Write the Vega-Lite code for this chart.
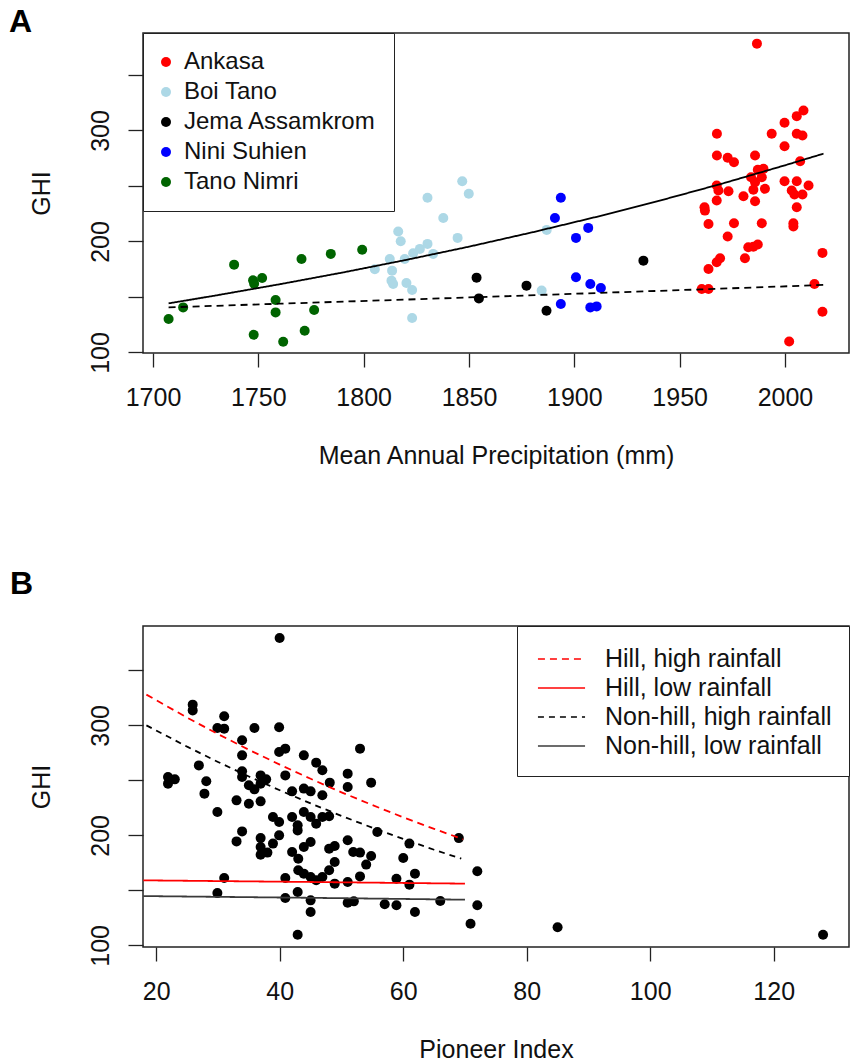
{
  "$schema": "https://vega.github.io/schema/vega-lite/v6.json",
  "autosize": {"type": "pad"},
  "padding": {"left": 8, "top": 4, "right": 0, "bottom": 0},
  "background": "white",
  "bounds": "flush",
  "spacing": 273,
  "config": {
    "view": {"stroke": "#222", "strokeWidth": 1.5},
    "font": "Liberation Sans",
    "axis": {
      "domain": false, "grid": false, "tickColor": "#222", "tickWidth": 1.3,
      "labelFont": "Liberation Sans", "labelFontSize": 25, "labelColor": "#111",
      "titleFont": "Liberation Sans", "titleFontSize": 25, "titleFontWeight": "normal", "titleColor": "#111",
      "labelFlush": false, "labelOverlap": false
    },
    "axisX": {"tickSize": 14, "labelPadding": 18, "titlePadding": 33},
    "axisY": {"tickSize": 15, "labelAngle": -90, "labelAlign": "center", "labelBaseline": "bottom", "labelPadding": 15, "titlePadding": 34},
    "legend": {"labelFont": "Liberation Sans", "labelFontSize": 25, "labelColor": "#111", "strokeColor": "#222", "fillColor": "white", "labelLimit": 400}
  },
  "resolve": {
    "scale": {"x": "independent", "y": "independent", "color": "independent", "strokeDash": "independent"},
    "legend": {"color": "independent", "strokeDash": "independent"}
  },
  "datasets": {
    "sitesA": [
      {"site": "Tano Nimri", "precip": 1707.4, "ghi": 130.1},
      {"site": "Tano Nimri", "precip": 1714.3, "ghi": 140.6},
      {"site": "Tano Nimri", "precip": 1738.5, "ghi": 179.1},
      {"site": "Tano Nimri", "precip": 1747.5, "ghi": 165},
      {"site": "Tano Nimri", "precip": 1748, "ghi": 162},
      {"site": "Tano Nimri", "precip": 1751.8, "ghi": 167.1},
      {"site": "Tano Nimri", "precip": 1758.2, "ghi": 147.3},
      {"site": "Tano Nimri", "precip": 1758.2, "ghi": 136.1},
      {"site": "Tano Nimri", "precip": 1747.8, "ghi": 116},
      {"site": "Tano Nimri", "precip": 1761.8, "ghi": 109.7},
      {"site": "Tano Nimri", "precip": 1772, "ghi": 119.6},
      {"site": "Tano Nimri", "precip": 1776.5, "ghi": 138.2},
      {"site": "Tano Nimri", "precip": 1770.5, "ghi": 184.2},
      {"site": "Tano Nimri", "precip": 1784.4, "ghi": 188.8},
      {"site": "Tano Nimri", "precip": 1799.3, "ghi": 192.6},
      {"site": "Boi Tano", "precip": 1805.3, "ghi": 174.9},
      {"site": "Boi Tano", "precip": 1812.4, "ghi": 184.2},
      {"site": "Boi Tano", "precip": 1816.4, "ghi": 208.9},
      {"site": "Boi Tano", "precip": 1817.6, "ghi": 200.1},
      {"site": "Boi Tano", "precip": 1813.5, "ghi": 173.7},
      {"site": "Boi Tano", "precip": 1813.2, "ghi": 164.7},
      {"site": "Boi Tano", "precip": 1814, "ghi": 161.7},
      {"site": "Boi Tano", "precip": 1819.5, "ghi": 184.2},
      {"site": "Boi Tano", "precip": 1820.3, "ghi": 162.6},
      {"site": "Boi Tano", "precip": 1823, "ghi": 156.3},
      {"site": "Boi Tano", "precip": 1823, "ghi": 131},
      {"site": "Boi Tano", "precip": 1823.5, "ghi": 189.3},
      {"site": "Boi Tano", "precip": 1826.7, "ghi": 193.3},
      {"site": "Boi Tano", "precip": 1830.3, "ghi": 197.8},
      {"site": "Boi Tano", "precip": 1833, "ghi": 188.8},
      {"site": "Boi Tano", "precip": 1830.3, "ghi": 239.3},
      {"site": "Boi Tano", "precip": 1837.8, "ghi": 221.2},
      {"site": "Boi Tano", "precip": 1844.6, "ghi": 203.2},
      {"site": "Boi Tano", "precip": 1846.8, "ghi": 254.3},
      {"site": "Boi Tano", "precip": 1849.9, "ghi": 242.9},
      {"site": "Boi Tano", "precip": 1886.9, "ghi": 210.4},
      {"site": "Boi Tano", "precip": 1884.5, "ghi": 155.7},
      {"site": "Jema Assamkrom", "precip": 1853.6, "ghi": 167.4},
      {"site": "Jema Assamkrom", "precip": 1854.7, "ghi": 148.7},
      {"site": "Jema Assamkrom", "precip": 1877.3, "ghi": 160.2},
      {"site": "Jema Assamkrom", "precip": 1886.8, "ghi": 137.6},
      {"site": "Jema Assamkrom", "precip": 1932.8, "ghi": 182.7},
      {"site": "Nini Suhien", "precip": 1893.6, "ghi": 239.3},
      {"site": "Nini Suhien", "precip": 1890.8, "ghi": 221.2},
      {"site": "Nini Suhien", "precip": 1906.6, "ghi": 212.2},
      {"site": "Nini Suhien", "precip": 1900.8, "ghi": 203.2},
      {"site": "Nini Suhien", "precip": 1900.8, "ghi": 167.7},
      {"site": "Nini Suhien", "precip": 1907.6, "ghi": 161.7},
      {"site": "Nini Suhien", "precip": 1912.6, "ghi": 158.1},
      {"site": "Nini Suhien", "precip": 1893.6, "ghi": 143.7},
      {"site": "Nini Suhien", "precip": 1907.6, "ghi": 140.6},
      {"site": "Nini Suhien", "precip": 1910.6, "ghi": 141.5},
      {"site": "Ankasa", "precip": 1986.7, "ghi": 378.2},
      {"site": "Ankasa", "precip": 1967.7, "ghi": 297},
      {"site": "Ankasa", "precip": 1967.7, "ghi": 277.4},
      {"site": "Ankasa", "precip": 1972.8, "ghi": 275.4},
      {"site": "Ankasa", "precip": 1975.8, "ghi": 271.4},
      {"site": "Ankasa", "precip": 1985.8, "ghi": 277.4},
      {"site": "Ankasa", "precip": 1993.7, "ghi": 297},
      {"site": "Ankasa", "precip": 1999.8, "ghi": 306.9},
      {"site": "Ankasa", "precip": 2005.6, "ghi": 312.9},
      {"site": "Ankasa", "precip": 2008.8, "ghi": 318},
      {"site": "Ankasa", "precip": 2005.6, "ghi": 297},
      {"site": "Ankasa", "precip": 2008.3, "ghi": 295.5},
      {"site": "Ankasa", "precip": 1999.8, "ghi": 285.8},
      {"site": "Ankasa", "precip": 2007.2, "ghi": 272.3},
      {"site": "Ankasa", "precip": 1987.1, "ghi": 264.5},
      {"site": "Ankasa", "precip": 1989.8, "ghi": 265.4},
      {"site": "Ankasa", "precip": 1983.9, "ghi": 257.9},
      {"site": "Ankasa", "precip": 1989, "ghi": 257.9},
      {"site": "Ankasa", "precip": 1985.8, "ghi": 253.4},
      {"site": "Ankasa", "precip": 1990.5, "ghi": 247.4},
      {"site": "Ankasa", "precip": 1985, "ghi": 246.5},
      {"site": "Ankasa", "precip": 1967.6, "ghi": 250.4},
      {"site": "Ankasa", "precip": 1968.4, "ghi": 245.9},
      {"site": "Ankasa", "precip": 1973.2, "ghi": 245.2},
      {"site": "Ankasa", "precip": 1980.3, "ghi": 240.7},
      {"site": "Ankasa", "precip": 1967.6, "ghi": 236.9},
      {"site": "Ankasa", "precip": 1985.8, "ghi": 236.2},
      {"site": "Ankasa", "precip": 1999.8, "ghi": 254.3},
      {"site": "Ankasa", "precip": 2005.6, "ghi": 254.3},
      {"site": "Ankasa", "precip": 2003.2, "ghi": 245.9},
      {"site": "Ankasa", "precip": 2004.5, "ghi": 242.3},
      {"site": "Ankasa", "precip": 2008.3, "ghi": 242.3},
      {"site": "Ankasa", "precip": 2011.2, "ghi": 250.4},
      {"site": "Ankasa", "precip": 2005.6, "ghi": 230.8},
      {"site": "Ankasa", "precip": 1961.8, "ghi": 230.8},
      {"site": "Ankasa", "precip": 1962, "ghi": 227.8},
      {"site": "Ankasa", "precip": 1963.7, "ghi": 215.8},
      {"site": "Ankasa", "precip": 1975.8, "ghi": 216.4},
      {"site": "Ankasa", "precip": 1989, "ghi": 216.4},
      {"site": "Ankasa", "precip": 2004, "ghi": 216.4},
      {"site": "Ankasa", "precip": 2004, "ghi": 213.4},
      {"site": "Ankasa", "precip": 1972.8, "ghi": 204.4},
      {"site": "Ankasa", "precip": 1982.6, "ghi": 194.7},
      {"site": "Ankasa", "precip": 1985, "ghi": 195.3},
      {"site": "Ankasa", "precip": 1987.1, "ghi": 197.2},
      {"site": "Ankasa", "precip": 1981, "ghi": 184.8},
      {"site": "Ankasa", "precip": 1969.2, "ghi": 184.8},
      {"site": "Ankasa", "precip": 1967.6, "ghi": 181.2},
      {"site": "Ankasa", "precip": 1963.7, "ghi": 175.2},
      {"site": "Ankasa", "precip": 1960.5, "ghi": 157.2},
      {"site": "Ankasa", "precip": 1963.7, "ghi": 157.2},
      {"site": "Ankasa", "precip": 2017.8, "ghi": 189.7},
      {"site": "Ankasa", "precip": 2014, "ghi": 161.7},
      {"site": "Ankasa", "precip": 2017.8, "ghi": 136.7},
      {"site": "Ankasa", "precip": 2002, "ghi": 109.9}
    ],
    "fitA": [
      {"fit": "solid", "precip": 1707.4, "ghi": 144.2},
      {"fit": "solid", "precip": 1730, "ghi": 151.4},
      {"fit": "solid", "precip": 1760, "ghi": 161.4},
      {"fit": "solid", "precip": 1790, "ghi": 172.0},
      {"fit": "solid", "precip": 1820, "ghi": 183.3},
      {"fit": "solid", "precip": 1850, "ghi": 195.3},
      {"fit": "solid", "precip": 1880, "ghi": 208.2},
      {"fit": "solid", "precip": 1910, "ghi": 221.9},
      {"fit": "solid", "precip": 1940, "ghi": 236.5},
      {"fit": "solid", "precip": 1970, "ghi": 252.0},
      {"fit": "solid", "precip": 2000, "ghi": 268.6},
      {"fit": "solid", "precip": 2018.3, "ghi": 279.1},
      {"fit": "dashed", "precip": 1707.4, "ghi": 140.6},
      {"fit": "dashed", "precip": 1760, "ghi": 143.9},
      {"fit": "dashed", "precip": 1810, "ghi": 147.0},
      {"fit": "dashed", "precip": 1860, "ghi": 150.2},
      {"fit": "dashed", "precip": 1910, "ghi": 153.5},
      {"fit": "dashed", "precip": 1960, "ghi": 156.8},
      {"fit": "dashed", "precip": 2018.3, "ghi": 160.8}
    ],
    "pointsB": [
      {"pioneer": 39.98, "ghi": 379.4}, {"pioneer": 25.9, "ghi": 318.8}, {"pioneer": 25.9, "ghi": 313.6},
      {"pioneer": 31, "ghi": 308.2}, {"pioneer": 29.9, "ghi": 297.6}, {"pioneer": 31, "ghi": 297},
      {"pioneer": 35.9, "ghi": 297.6}, {"pioneer": 39.9, "ghi": 298.2}, {"pioneer": 33.9, "ghi": 286.4},
      {"pioneer": 33.9, "ghi": 272.7}, {"pioneer": 39.9, "ghi": 275.7}, {"pioneer": 40.9, "ghi": 278.8},
      {"pioneer": 43.9, "ghi": 272.7}, {"pioneer": 45.9, "ghi": 266.1}, {"pioneer": 46.9, "ghi": 259.1},
      {"pioneer": 53, "ghi": 278.8}, {"pioneer": 51, "ghi": 256.1}, {"pioneer": 51, "ghi": 243.9},
      {"pioneer": 54.8, "ghi": 247.9}, {"pioneer": 26.9, "ghi": 263.6}, {"pioneer": 21.9, "ghi": 253},
      {"pioneer": 21.9, "ghi": 247}, {"pioneer": 23, "ghi": 250.9}, {"pioneer": 28.1, "ghi": 249.1},
      {"pioneer": 27.8, "ghi": 237.9}, {"pioneer": 29.9, "ghi": 221.2}, {"pioneer": 33.9, "ghi": 258.2},
      {"pioneer": 33.9, "ghi": 253}, {"pioneer": 35, "ghi": 245.5}, {"pioneer": 35.9, "ghi": 241.8},
      {"pioneer": 36.9, "ghi": 254.5}, {"pioneer": 37.8, "ghi": 250.9}, {"pioneer": 36.9, "ghi": 247},
      {"pioneer": 40.9, "ghi": 254.5}, {"pioneer": 42, "ghi": 240}, {"pioneer": 43.9, "ghi": 242.5},
      {"pioneer": 45, "ghi": 240}, {"pioneer": 46.9, "ghi": 236.4}, {"pioneer": 48.1, "ghi": 247.9},
      {"pioneer": 33, "ghi": 231.8}, {"pioneer": 35, "ghi": 228.8}, {"pioneer": 36.9, "ghi": 230.9},
      {"pioneer": 38.9, "ghi": 216.6}, {"pioneer": 39.9, "ghi": 212.1}, {"pioneer": 42, "ghi": 216.6},
      {"pioneer": 43.9, "ghi": 221.2}, {"pioneer": 45, "ghi": 216.6}, {"pioneer": 45.9, "ghi": 210.6},
      {"pioneer": 46.9, "ghi": 216.6}, {"pioneer": 48, "ghi": 217.3}, {"pioneer": 42.9, "ghi": 209.1},
      {"pioneer": 42.9, "ghi": 204.5}, {"pioneer": 39.9, "ghi": 200}, {"pioneer": 33.9, "ghi": 203.6},
      {"pioneer": 33, "ghi": 194.5}, {"pioneer": 36.9, "ghi": 197.5}, {"pioneer": 36.9, "ghi": 189.4},
      {"pioneer": 36.9, "ghi": 182.4}, {"pioneer": 38, "ghi": 184.3}, {"pioneer": 38.9, "ghi": 192.5},
      {"pioneer": 42, "ghi": 184.8}, {"pioneer": 43, "ghi": 178.8}, {"pioneer": 43, "ghi": 168.2},
      {"pioneer": 43.9, "ghi": 189.4}, {"pioneer": 45, "ghi": 193.9}, {"pioneer": 43.9, "ghi": 165.2},
      {"pioneer": 45, "ghi": 162.1}, {"pioneer": 45.9, "ghi": 159.1}, {"pioneer": 46.9, "ghi": 162.1},
      {"pioneer": 48, "ghi": 168.2}, {"pioneer": 48.9, "ghi": 175.7}, {"pioneer": 48, "ghi": 187.9},
      {"pioneer": 48.9, "ghi": 190.3}, {"pioneer": 48.9, "ghi": 156.1}, {"pioneer": 51, "ghi": 195.5},
      {"pioneer": 51, "ghi": 157.6}, {"pioneer": 51.9, "ghi": 184.8}, {"pioneer": 53, "ghi": 184.3},
      {"pioneer": 54, "ghi": 173.4}, {"pioneer": 54.8, "ghi": 181.2}, {"pioneer": 53, "ghi": 162.7},
      {"pioneer": 55.8, "ghi": 203}, {"pioneer": 60, "ghi": 179.4}, {"pioneer": 61, "ghi": 192.5},
      {"pioneer": 58.9, "ghi": 160.6}, {"pioneer": 61, "ghi": 155.2}, {"pioneer": 61.9, "ghi": 165.2},
      {"pioneer": 31, "ghi": 161.2}, {"pioneer": 29.9, "ghi": 147.5}, {"pioneer": 40.9, "ghi": 161.2},
      {"pioneer": 40.9, "ghi": 143}, {"pioneer": 42.9, "ghi": 148.5}, {"pioneer": 45, "ghi": 140.9},
      {"pioneer": 45, "ghi": 130.3}, {"pioneer": 51, "ghi": 138.8}, {"pioneer": 52, "ghi": 140},
      {"pioneer": 57, "ghi": 137.3}, {"pioneer": 58.9, "ghi": 136.4}, {"pioneer": 61.9, "ghi": 130.3},
      {"pioneer": 66, "ghi": 140.3}, {"pioneer": 42.9, "ghi": 109.7}, {"pioneer": 69, "ghi": 197.5},
      {"pioneer": 72, "ghi": 167.3}, {"pioneer": 72, "ghi": 136.4}, {"pioneer": 70.9, "ghi": 119.7},
      {"pioneer": 85, "ghi": 116.4}, {"pioneer": 128, "ghi": 109.7}
    ],
    "fitB": [
      {"model": "Hill, high rainfall", "pioneer": 18.4, "ghi": 327.9},
      {"model": "Hill, high rainfall", "pioneer": 25, "ghi": 307},
      {"model": "Hill, high rainfall", "pioneer": 30, "ghi": 292},
      {"model": "Hill, high rainfall", "pioneer": 35, "ghi": 277.8},
      {"model": "Hill, high rainfall", "pioneer": 40, "ghi": 264.3},
      {"model": "Hill, high rainfall", "pioneer": 45, "ghi": 251.4},
      {"model": "Hill, high rainfall", "pioneer": 50, "ghi": 239.1},
      {"model": "Hill, high rainfall", "pioneer": 55, "ghi": 227.5},
      {"model": "Hill, high rainfall", "pioneer": 60, "ghi": 216.4},
      {"model": "Hill, high rainfall", "pioneer": 65, "ghi": 205.9},
      {"model": "Hill, high rainfall", "pioneer": 69.7, "ghi": 196.4},
      {"model": "Hill, low rainfall", "pioneer": 17.9, "ghi": 159.1},
      {"model": "Hill, low rainfall", "pioneer": 45, "ghi": 157.6},
      {"model": "Hill, low rainfall", "pioneer": 70, "ghi": 156.1},
      {"model": "Non-hill, high rainfall", "pioneer": 18.4, "ghi": 300},
      {"model": "Non-hill, high rainfall", "pioneer": 25, "ghi": 280.6},
      {"model": "Non-hill, high rainfall", "pioneer": 30, "ghi": 266.7},
      {"model": "Non-hill, high rainfall", "pioneer": 35, "ghi": 253.5},
      {"model": "Non-hill, high rainfall", "pioneer": 40, "ghi": 241},
      {"model": "Non-hill, high rainfall", "pioneer": 45, "ghi": 229},
      {"model": "Non-hill, high rainfall", "pioneer": 50, "ghi": 217.7},
      {"model": "Non-hill, high rainfall", "pioneer": 55, "ghi": 206.9},
      {"model": "Non-hill, high rainfall", "pioneer": 60, "ghi": 196.7},
      {"model": "Non-hill, high rainfall", "pioneer": 65, "ghi": 186.9},
      {"model": "Non-hill, high rainfall", "pioneer": 69.4, "ghi": 178.8},
      {"model": "Non-hill, low rainfall", "pioneer": 17.9, "ghi": 144.8},
      {"model": "Non-hill, low rainfall", "pioneer": 45, "ghi": 143.2},
      {"model": "Non-hill, low rainfall", "pioneer": 70, "ghi": 141.5}
    ]
  },
  "vconcat": [
    {
      "width": 706,
      "height": 320,
      "title": {"text": "A", "anchor": "start", "frame": "group", "font": "Liberation Sans", "fontSize": 32, "fontWeight": "bold", "color": "#000", "baseline": "alphabetic", "offset": 0, "dx": -134, "dy": 31},
      "encoding": {
        "x": {"field": "precip", "type": "quantitative", "title": "Mean Annual Precipitation (mm)",
              "scale": {"domain": [1695.25, 2030.4], "nice": false, "zero": false},
              "axis": {"values": [1700, 1750, 1800, 1850, 1900, 1950, 2000], "format": "d"}},
        "y": {"field": "ghi", "type": "quantitative", "title": "GHI",
              "scale": {"domain": [99.5, 387.8], "nice": false, "zero": false},
              "axis": {"values": [100, 150, 200, 250, 300, 350], "labelExpr": "datum.value % 100 === 0 ? datum.label : ''"}}
      },
      "layer": [
        {
          "data": {"name": "sitesA"},
          "mark": {"type": "point", "filled": true, "size": 100, "opacity": 1, "strokeWidth": 0},
          "encoding": {
            "color": {"field": "site", "type": "nominal",
              "scale": {"domain": ["Ankasa", "Boi Tano", "Jema Assamkrom", "Nini Suhien", "Tano Nimri"],
                        "range": ["#ff0000", "#add8e6", "#000000", "#0000ff", "#006400"]},
              "legend": {"orient": "top-left", "offset": 0, "title": null, "symbolType": "circle", "symbolSize": 100,
                         "symbolStrokeWidth": 0, "symbolOffset": -6, "labelOffset": 6, "labelFontSize": 24, "padding": 17, "rowPadding": 6}}
          }
        },
        {
          "data": {"name": "fitA"},
          "mark": {"type": "line", "color": "#000", "strokeWidth": 1.8},
          "encoding": {
            "strokeDash": {"field": "fit", "type": "nominal",
              "scale": {"domain": ["solid", "dashed"], "range": [[1, 0], [7, 5]]}, "legend": null}
          }
        }
      ]
    },
    {
      "width": 706,
      "height": 321,
      "title": {"text": "B", "anchor": "start", "frame": "group", "font": "Liberation Sans", "fontSize": 32, "fontWeight": "bold", "color": "#000", "baseline": "alphabetic", "offset": 0, "dx": -133},
      "encoding": {
        "x": {"field": "pioneer", "type": "quantitative", "title": "Pioneer Index",
              "scale": {"domain": [17.85, 132.2], "nice": false, "zero": false},
              "axis": {"values": [20, 40, 60, 80, 100, 120], "format": "d"}},
        "y": {"field": "ghi", "type": "quantitative", "title": "GHI",
              "scale": {"domain": [98.5, 390.3], "nice": false, "zero": false},
              "axis": {"values": [100, 150, 200, 250, 300, 350], "labelExpr": "datum.value % 100 === 0 ? datum.label : ''"}}
      },
      "layer": [
        {
          "data": {"name": "pointsB"},
          "mark": {"type": "point", "filled": true, "size": 100, "opacity": 1, "strokeWidth": 0, "color": "#000"}
        },
        {
          "data": {"name": "fitB"},
          "mark": {"type": "line", "strokeWidth": 1.8},
          "encoding": {
            "color": {"field": "model", "type": "nominal",
              "scale": {"domain": ["Hill, high rainfall", "Hill, low rainfall", "Non-hill, high rainfall", "Non-hill, low rainfall"],
                        "range": ["#ff0000", "#ff0000", "#000000", "#3a3a3a"]},
              "legend": {"orient": "top-right", "offset": 0, "title": null, "symbolType": "M-1.57,0H1.57", "symbolSize": 900,
                         "symbolStrokeWidth": 1.6, "symbolOffset": 11.5, "labelOffset": 27.5, "padding": 17, "rowPadding": 0}},
            "strokeDash": {"field": "model", "type": "nominal",
              "scale": {"domain": ["Hill, high rainfall", "Hill, low rainfall", "Non-hill, high rainfall", "Non-hill, low rainfall"],
                        "range": [[7, 5], [1, 0], [6, 5], [1, 0]]},
              "legend": {"orient": "top-right", "offset": 0, "title": null, "symbolType": "M-1.57,0H1.57", "symbolSize": 900,
                         "symbolStrokeWidth": 1.6, "symbolOffset": 11.5, "labelOffset": 27.5, "padding": 17, "rowPadding": 0}}
          }
        }
      ]
    }
  ]
}
